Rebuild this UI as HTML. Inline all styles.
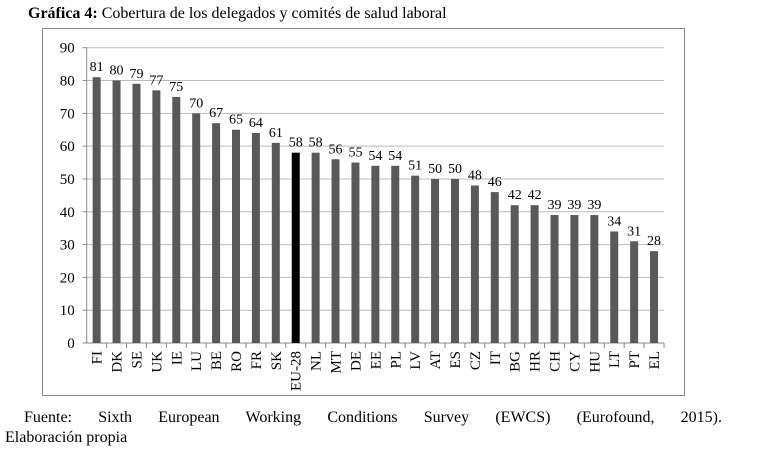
<!DOCTYPE html>
<html><head><meta charset="utf-8"><style>
body{margin:0;background:#fff;width:777px;height:470px;overflow:hidden;font-family:"Liberation Serif","Times New Roman",serif;}
svg text{font-family:"Liberation Serif","Times New Roman",serif;}
#title{position:absolute;left:28px;top:5px;font-size:16px;font-family:"Liberation Serif",serif;}
#src1{position:absolute;left:24px;top:408px;font-size:16px;line-height:20px;width:698px;text-align:justify;text-align-last:justify;font-family:"Liberation Serif",serif;}
#src2{position:absolute;left:5px;top:428px;font-size:16px;line-height:20px;font-family:"Liberation Serif",serif;}
</style></head><body>
<div id="title"><b>Gráfica 4:</b> Cobertura de los delegados y comités de salud laboral</div>
<svg id="chart" width="777" height="470" style="position:absolute;left:0;top:0"></svg>
<div id="src1">Fuente: Sixth European Working Conditions Survey (EWCS) (Eurofound, 2015).</div>
<div id="src2">Elaboración propia</div>
<script>
const categories=["FI","DK","SE","UK","IE","LU","BE","RO","FR","SK","EU-28","NL","MT","DE","EE","PL","LV","AT","ES","CZ","IT","BG","HR","CH","CY","HU","LT","PT","EL"];
const values=[81,80,79,77,75,70,67,65,64,61,58,58,56,55,54,54,51,50,50,48,46,42,42,39,39,39,34,31,28];
const yTicks=[0,10,20,30,40,50,60,70,80,90];
const NS="http://www.w3.org/2000/svg";
const svg=document.getElementById('chart');
const x0=86.7,x1=664,y0=343,yTop=47.7,yMax=90;
const n=categories.length,step=(x1-x0)/n;
const yS=v=>y0-(v/yMax)*(y0-yTop);
const xC=i=>x0+step*(i+0.5);
const FF='"Liberation Serif","Times New Roman",serif';
function el(t,a){const e=document.createElementNS(NS,t);for(const k in a)e.setAttribute(k,a[k]);if(t==='text')e.setAttribute('font-family',FF);svg.appendChild(e);return e;}
let fr=el('rect',{x:42.5,y:28.5,width:642,height:367,fill:'none',stroke:'#888'});


yTicks.forEach(t=>{
 if(t>0){let g=el('line',{x1:x0,x2:x1,y1:yS(t),y2:yS(t),stroke:'#bbb'});
 
 }
 el('line',{x1:x0-4,x2:x0,y1:yS(t),y2:yS(t),stroke:'#888'});
 let l=el('text',{x:x0-12,y:yS(t)+5,'text-anchor':'end','font-size':15,fill:'#000'});
 l.textContent=t;
 
 
});
el('line',{x1:x0,x2:x0,y1:yTop,y2:y0,stroke:'#888'});
el('line',{x1:x0,x2:x1,y1:y0,y2:y0,stroke:'#888'});
categories.forEach((c,i)=>{
 const xc=xC(i);
 let b=el('rect',{x:xc-4,y:yS(values[i]),width:8,height:y0-yS(values[i]),fill:c==='EU-28'?'#000':'#595959'});
 
 
 el('line',{x1:x0+step*(i+1),x2:x0+step*(i+1),y1:y0,y2:y0+5,stroke:'#888'});
 let v=el('text',{x:xc,y:yS(values[i])-6,'text-anchor':'middle','font-size':14,fill:'#000'});
 v.textContent=values[i];
 
 
 let t=el('text',{x:0,y:0,'text-anchor':'end','font-size':15,fill:'#000',transform:`translate(${xc+5},${y0+8}) rotate(-90)`});
 t.textContent=c;
 
 
});
</script>
</body></html>
